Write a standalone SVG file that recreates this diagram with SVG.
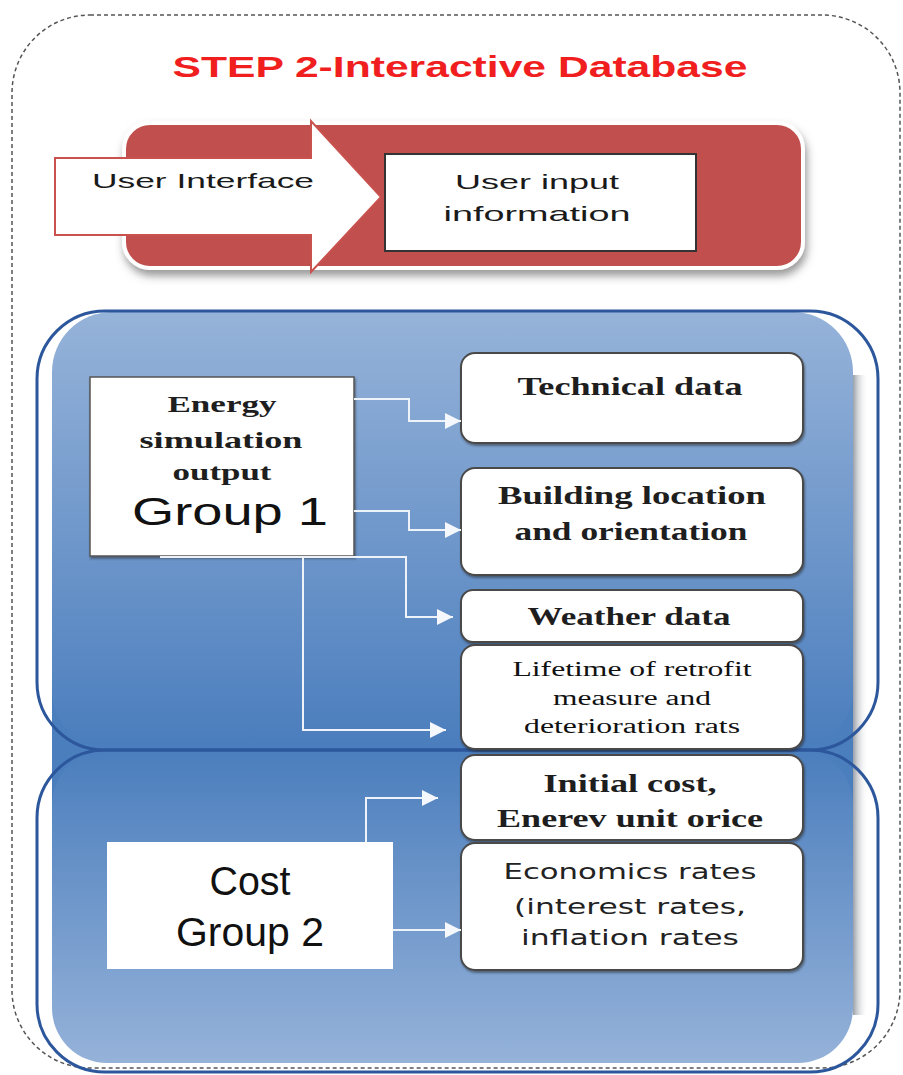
<svg xmlns="http://www.w3.org/2000/svg" width="903" height="1075" viewBox="0 0 903 1075">
<defs>
<style>
.serifb{font-family:"Liberation Serif","DejaVu Serif",serif;font-weight:bold;fill:#1e1e1e}
.serif{font-family:"Liberation Serif","DejaVu Serif",serif;fill:#111}
.sans{font-family:"Liberation Sans","DejaVu Sans",sans-serif;fill:#1a1a1a}
.verd{font-family:"DejaVu Sans","Liberation Sans",sans-serif;fill:#222}
.box{fill:#fff;stroke:#4a4a4a;stroke-width:2}
.conn{fill:none;stroke:#eef3fa;stroke-width:2;marker-end:url(#ah)}
.outline{fill:none;stroke:#2d579c;stroke-width:3}
</style>
<marker id="ah" viewBox="0 0 16 16" refX="16" refY="8" markerWidth="16" markerHeight="16" markerUnits="userSpaceOnUse" orient="auto">
<path d="M0,0 L16,8 L0,16 z" fill="#f4f7fc"/>
</marker>
<linearGradient id="g1" x1="0" y1="0" x2="0" y2="1">
<stop offset="0" stop-color="#96b3d9"/>
<stop offset="1" stop-color="#4a7dbd"/>
</linearGradient>
<linearGradient id="g2" x1="0" y1="0" x2="0" y2="1">
<stop offset="0" stop-color="#4b7ebd"/>
<stop offset="1" stop-color="#95b2d9"/>
</linearGradient>
<linearGradient id="sh" x1="0" y1="0" x2="1" y2="0">
<stop offset="0" stop-color="#9aa0a8"/>
<stop offset="1" stop-color="#ffffff" stop-opacity="0"/>
</linearGradient>
<filter id="ds" x="-10%" y="-20%" width="125%" height="150%">
<feDropShadow dx="2" dy="6" stdDeviation="4" flood-color="#555" flood-opacity="0.6"/>
</filter>
<filter id="bs" x="-5%" y="-10%" width="115%" height="130%">
<feDropShadow dx="1" dy="2" stdDeviation="1.2" flood-color="#222" flood-opacity="0.5"/>
</filter>
</defs>
<rect width="903" height="1075" fill="#fff"/>
<rect x="12" y="15" width="888" height="1053" rx="78" fill="none" stroke="#555" stroke-width="1.5" stroke-dasharray="4 3"/>
<text x="460" y="77" text-anchor="middle" font-family="Liberation Sans,DejaVu Sans,sans-serif" font-weight="bold" font-size="29" fill="#f01e1e" textLength="575" lengthAdjust="spacingAndGlyphs">STEP 2-Interactive Database</text>

<g id="red-panel">
<rect x="124" y="123" width="679" height="145" rx="26" fill="#c0504d" stroke="#fff" stroke-width="4" filter="url(#ds)"/>
</g>
<g id="user-interface">
<polygon points="55,158 311,158 311,121 381,197 311,272 311,235 55,235" fill="#fff" stroke="#c9514e" stroke-width="2"/>
<text class="sans" x="92" y="188" font-size="21" textLength="222" lengthAdjust="spacingAndGlyphs">User Interface</text>
</g>
<g id="user-input">
<rect x="385" y="154" width="311" height="97" fill="#fff" stroke="#333" stroke-width="2"/>
<text class="sans" x="537" y="189" font-size="21" text-anchor="middle" textLength="164" lengthAdjust="spacingAndGlyphs">User input</text>
<text class="sans" x="537" y="221" font-size="21" text-anchor="middle" textLength="187" lengthAdjust="spacingAndGlyphs">information</text>
</g>

<g id="panels">
<rect x="853" y="375" width="15" height="640" fill="url(#sh)"/>
<rect x="52" y="690" width="801" height="120" fill="#4b7ebd"/>
<rect x="52" y="312" width="801" height="438" rx="60" fill="url(#g1)"/>
<rect x="52" y="750" width="801" height="313" rx="55" fill="url(#g2)"/>
<rect x="37" y="311" width="841" height="439" rx="68" class="outline"/>
<rect x="37" y="750" width="841" height="322" rx="68" class="outline"/>
</g>

<g id="energy-group1">
<rect x="90" y="377" width="264" height="179" fill="#fff" stroke="#555" stroke-width="1.5" filter="url(#bs)"/>
<text class="serifb" x="222" y="412" font-size="23" text-anchor="middle" textLength="109" lengthAdjust="spacingAndGlyphs">Energy</text>
<text class="serifb" x="221" y="448" font-size="23" text-anchor="middle" textLength="163" lengthAdjust="spacingAndGlyphs">simulation</text>
<text class="serifb" x="222" y="480" font-size="23" text-anchor="middle" textLength="99" lengthAdjust="spacingAndGlyphs">output</text>
<text x="230" y="525" font-family="Liberation Sans,DejaVu Sans,sans-serif" font-size="39" fill="#111" text-anchor="middle" textLength="196" lengthAdjust="spacingAndGlyphs">Group 1</text>
</g>

<g id="technical-data">
<rect class="box" x="461" y="353" width="342" height="90" rx="14" filter="url(#bs)"/>
<text class="serifb" x="630" y="395" font-size="25" text-anchor="middle" textLength="225" lengthAdjust="spacingAndGlyphs">Technical data</text>
</g>
<g id="building-location">
<rect class="box" x="461" y="468" width="342" height="107" rx="14" filter="url(#bs)"/>
<text class="serifb" x="632" y="504" font-size="25" text-anchor="middle" textLength="268" lengthAdjust="spacingAndGlyphs">Building location</text>
<text class="serifb" x="631" y="540" font-size="25" text-anchor="middle" textLength="233" lengthAdjust="spacingAndGlyphs">and orientation</text>
</g>
<g id="weather-data">
<rect class="box" x="461" y="590" width="342" height="52" rx="12" filter="url(#bs)"/>
<text class="serifb" x="629" y="625" font-size="25" text-anchor="middle" textLength="203" lengthAdjust="spacingAndGlyphs">Weather data</text>
</g>
<g id="lifetime">
<rect class="box" x="461" y="645" width="342" height="104" rx="14" filter="url(#bs)"/>
<text class="serif" x="632" y="676" font-size="20" text-anchor="middle" textLength="239" lengthAdjust="spacingAndGlyphs">Lifetime of retrofit</text>
<text class="serif" x="632" y="705" font-size="20" text-anchor="middle" textLength="158" lengthAdjust="spacingAndGlyphs">measure and</text>
<text class="serif" x="632" y="733" font-size="20" text-anchor="middle" textLength="216" lengthAdjust="spacingAndGlyphs">deterioration rats</text>
</g>
<g id="initial-cost">
<rect class="box" x="461" y="755" width="342" height="85" rx="14" filter="url(#bs)"/>
<text class="serifb" x="630" y="792" font-size="25" text-anchor="middle" textLength="173" lengthAdjust="spacingAndGlyphs">Initial cost,</text>
<text class="serifb" x="630" y="827" font-size="25" text-anchor="middle" textLength="266" lengthAdjust="spacingAndGlyphs">Enerev unit orice</text>
</g>
<g id="economics-rates">
<rect class="box" x="461" y="843" width="342" height="127" rx="14" filter="url(#bs)"/>
<text class="verd" x="630" y="879" font-size="21" text-anchor="middle" textLength="253" lengthAdjust="spacingAndGlyphs">Economics rates</text>
<text class="verd" x="630" y="914" font-size="21" text-anchor="middle" textLength="232" lengthAdjust="spacingAndGlyphs">(interest rates,</text>
<text class="verd" x="630" y="945" font-size="21" text-anchor="middle" textLength="218" lengthAdjust="spacingAndGlyphs">inflation rates</text>
</g>

<g id="cost-group2">
<rect x="107" y="842" width="286" height="127" fill="#fff"/>
<text x="250" y="895" font-family="Liberation Sans,DejaVu Sans,sans-serif" font-size="41" fill="#111" text-anchor="middle" textLength="81" lengthAdjust="spacingAndGlyphs">Cost</text>
<text x="250" y="946" font-family="Liberation Sans,DejaVu Sans,sans-serif" font-size="41" fill="#111" text-anchor="middle" textLength="148" lengthAdjust="spacingAndGlyphs">Group 2</text>
</g>

<g id="connectors">
<polyline class="conn" points="354,399 409,399 409,421 461,421"/>
<polyline class="conn" points="354,511 409,511 409,530 461,530"/>
<polyline class="conn" points="160,557 406,557 406,617 453,617"/>
<polyline class="conn" points="303,557 303,730 446,730"/>
<polyline class="conn" points="366,842 366,798 438,798"/>
<polyline class="conn" points="393,930 461,930"/>
</g>
</svg>
